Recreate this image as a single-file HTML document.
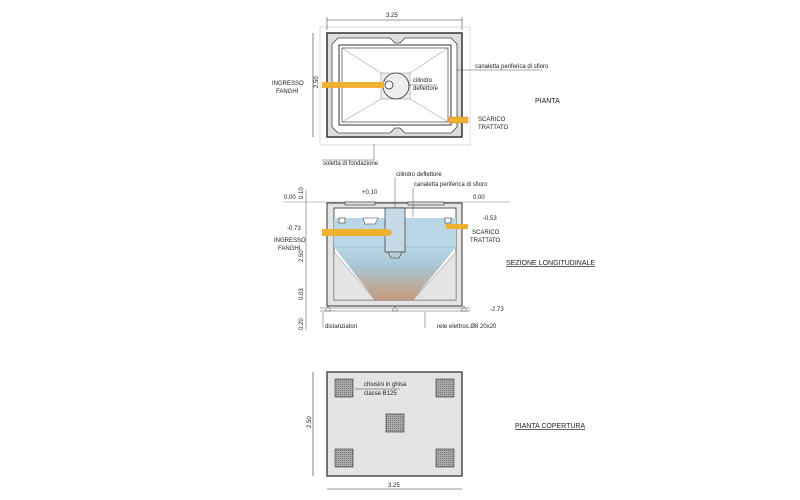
<!DOCTYPE html>
<html><head><meta charset="utf-8"><style>
html,body{margin:0;padding:0;background:#fff}
svg{display:block}
text{font-family:"Liberation Sans",sans-serif;fill:#222}
</style></head><body>
<svg width="800" height="500" viewBox="0 0 800 500" xmlns="http://www.w3.org/2000/svg">
<defs>
<linearGradient id="w" x1="0" y1="0" x2="0" y2="1">
<stop offset="0" stop-color="#b9d6e6"/><stop offset="0.35" stop-color="#a9c6d6"/><stop offset="1" stop-color="#c49a7a"/>
</linearGradient>
<pattern id="g" width="2" height="2" patternUnits="userSpaceOnUse"><rect width="2" height="2" fill="#aaa"/><rect width="1" height="1" fill="#777"/></pattern>
</defs>
<!-- PLAN -->
<rect x="320" y="27" width="150" height="118" fill="none" stroke="#ccc" stroke-width="0.7"/>
<rect x="327" y="33" width="135" height="104" fill="#ddd" stroke="#333" stroke-width="1.5"/>
<polygon points="338,38 390,38 395,43 400,43 405,38 451,38 457,44 457,127 451,133 405,133 400,128 395,128 390,133 338,133 332,127 332,44" fill="#fff" stroke="#444" stroke-width="0.8"/>
<rect x="339" y="45" width="112" height="80" fill="none" stroke="#333" stroke-width="1"/>
<rect x="342" y="48" width="106" height="74" fill="none" stroke="#444" stroke-width="0.7"/>
<rect x="381" y="73" width="29" height="26" fill="#eee" stroke="#999" stroke-width="0.6"/>
<g stroke="#888" stroke-width="0.5"><line x1="342" y1="48" x2="381" y2="73"/><line x1="448" y1="48" x2="410" y2="73"/><line x1="342" y1="122" x2="381" y2="99"/><line x1="448" y1="122" x2="410" y2="99"/></g>
<circle cx="396" cy="86" r="13" fill="none" stroke="#333" stroke-width="0.8"/>
<rect x="322" y="82" width="62" height="6" fill="#f0b030"/>
<circle cx="389" cy="85" r="4" fill="#fff" stroke="#333" stroke-width="0.8"/>
<rect x="449" y="117" width="19" height="6" fill="#f0b030" stroke="#b07a10" stroke-width="0.4"/>
<line x1="470" y1="70" x2="542" y2="70" stroke="#555" stroke-width="0.5"/><line x1="457" y1="70" x2="470" y2="70" stroke="#555" stroke-width="0.5"/>
<text x="475" y="68" font-size="6">canaletta periferica di sfioro</text>
<text x="413" y="82" font-size="6">cilindro</text><text x="413" y="90" font-size="6">deflettore</text>
<line x1="408" y1="85" x2="437" y2="85" stroke="#555" stroke-width="0.5"/>
<text x="272" y="85" font-size="6">INGRESSO</text><text x="276" y="93" font-size="6">FANGHI</text>
<text x="478" y="121" font-size="6">SCARICO</text><text x="478" y="129" font-size="6">TRATTATO</text>
<text x="535" y="103" font-size="7">PIANTA</text>
<line x1="327" y1="20" x2="462" y2="20" stroke="#333" stroke-width="0.6"/>
<line x1="327" y1="17" x2="327" y2="30" stroke="#333" stroke-width="0.5"/><line x1="462" y1="17" x2="462" y2="30" stroke="#333" stroke-width="0.5"/>
<text x="386" y="17" font-size="6">3.25</text>
<line x1="313" y1="33" x2="313" y2="137" stroke="#333" stroke-width="0.6"/>
<text x="318" y="88" font-size="6" transform="rotate(-90 318 88)">2.50</text>
<line x1="374" y1="144" x2="374" y2="160" stroke="#555" stroke-width="0.5"/><line x1="322" y1="160" x2="374" y2="160" stroke="#555" stroke-width="0.5"/>
<text x="323" y="165" font-size="6">soletta di fondazione</text>
<!-- SECTION -->
<line x1="283" y1="202" x2="510" y2="202" stroke="#888" stroke-width="0.5"/>
<rect x="327" y="203" width="135" height="103" fill="#e4e4e4" stroke="#333" stroke-width="1"/>
<rect x="334" y="208" width="122" height="92" fill="#fff" stroke="#333" stroke-width="0.8"/>
<rect x="334" y="218" width="122" height="30" fill="#b9d6e6"/>
<polygon points="334,247 456,247 413,300 375,300" fill="url(#w)"/>
<polygon points="334,252 334,300 375,300" fill="#e4e4e4" stroke="#777" stroke-width="0.5"/>
<polygon points="456,252 456,300 413,300" fill="#e4e4e4" stroke="#777" stroke-width="0.5"/>
<line x1="334" y1="247" x2="456" y2="247" stroke="#8aa" stroke-width="0.5"/>
<rect x="345" y="202" width="30" height="3" fill="#ddd" stroke="#333" stroke-width="0.6"/>
<rect x="408" y="202" width="36" height="3" fill="#ddd" stroke="#333" stroke-width="0.6"/>
<rect x="385" y="208" width="20" height="44" fill="#c5dce8" stroke="#333" stroke-width="0.7"/>
<polygon points="388,252 402,252 399,258 391,258" fill="#b8ccd6" stroke="#333" stroke-width="0.6"/>
<rect x="339" y="218" width="6" height="5" fill="#fff" stroke="#333" stroke-width="0.6"/>
<rect x="445" y="218" width="6" height="5" fill="#fff" stroke="#333" stroke-width="0.6"/>
<polygon points="363,218 378,218 375,224 365,224" fill="#fff" stroke="#333" stroke-width="0.5"/>
<path d="M322,229 H385 Q392,229 392,233 Q392,236 385,236 H322 Z" fill="#f0b030"/>
<rect x="446" y="224" width="22" height="5" fill="#f0b030"/>
<line x1="320" y1="308" x2="470" y2="308" stroke="#555" stroke-width="0.6"/>
<line x1="320" y1="311" x2="470" y2="311" stroke="#555" stroke-width="0.6"/>
<g fill="none" stroke="#555" stroke-width="0.5"><polygon points="325,311 328,306 331,311"/><polygon points="392,311 395,306 398,311"/><polygon points="461,311 464,306 467,311"/></g>
<line x1="306" y1="190" x2="306" y2="330" stroke="#555" stroke-width="0.5"/>
<text x="303" y="199" font-size="6" transform="rotate(-90 303 199)">0.10</text>
<text x="303" y="262" font-size="6" transform="rotate(-90 303 262)">2.50</text>
<text x="303" y="300" font-size="6" transform="rotate(-90 303 300)">0.03</text>
<text x="303" y="330" font-size="6" transform="rotate(-90 303 330)">0.20</text>
<text x="284" y="199" font-size="6">0.00</text><text x="473" y="199" font-size="6">0.00</text>
<text x="362" y="194" font-size="6">+0.10</text>
<text x="287" y="230" font-size="6">-0.73</text><text x="483" y="220" font-size="6">-0.53</text>
<text x="490" y="311" font-size="6">-2.73</text>
<text x="274" y="242" font-size="6">INGRESSO</text><text x="278" y="250" font-size="6">FANGHI</text>
<text x="472" y="234" font-size="6">SCARICO</text><text x="470" y="242" font-size="6">TRATTATO</text>
<text x="506" y="265" font-size="7" text-decoration="underline">SEZIONE LONGITUDINALE</text>
<line x1="395" y1="177" x2="395" y2="208" stroke="#555" stroke-width="0.5"/>
<text x="396" y="176" font-size="6">cilindro deflettore</text>
<line x1="413" y1="187" x2="413" y2="217" stroke="#555" stroke-width="0.5"/>
<text x="414" y="186" font-size="6">canaletta periferica di sfioro</text>
<line x1="323" y1="312" x2="323" y2="328" stroke="#555" stroke-width="0.5"/>
<text x="325" y="328" font-size="6">distanziatori</text>
<line x1="425" y1="312" x2="425" y2="328" stroke="#555" stroke-width="0.5"/>
<text x="437" y="328" font-size="6">rete elettros.Ø8 20x20</text>
<!-- COVER -->
<rect x="327" y="372" width="135" height="104" fill="#e4e4e4" stroke="#222" stroke-width="1.2"/>
<g stroke="#333" stroke-width="0.6" fill="url(#g)">
<rect x="335" y="379" width="18" height="18"/><rect x="436" y="379" width="18" height="18"/>
<rect x="386" y="414" width="18" height="18"/>
<rect x="335" y="449" width="18" height="18"/><rect x="436" y="449" width="18" height="18"/>
</g>
<line x1="355" y1="389" x2="400" y2="389" stroke="#444" stroke-width="0.5"/>
<text x="364" y="386" font-size="6">chiusini in ghisa</text><text x="364" y="395" font-size="6">classe B125</text>
<text x="515" y="428" font-size="7" text-decoration="underline">PIANTA COPERTURA</text>
<line x1="313" y1="372" x2="313" y2="476" stroke="#333" stroke-width="0.6"/>
<text x="311" y="428" font-size="6" transform="rotate(-90 311 428)">2.50</text>
<line x1="327" y1="489" x2="462" y2="489" stroke="#333" stroke-width="0.6"/>
<text x="388" y="487" font-size="6">3.25</text>
</svg>
</body></html>
